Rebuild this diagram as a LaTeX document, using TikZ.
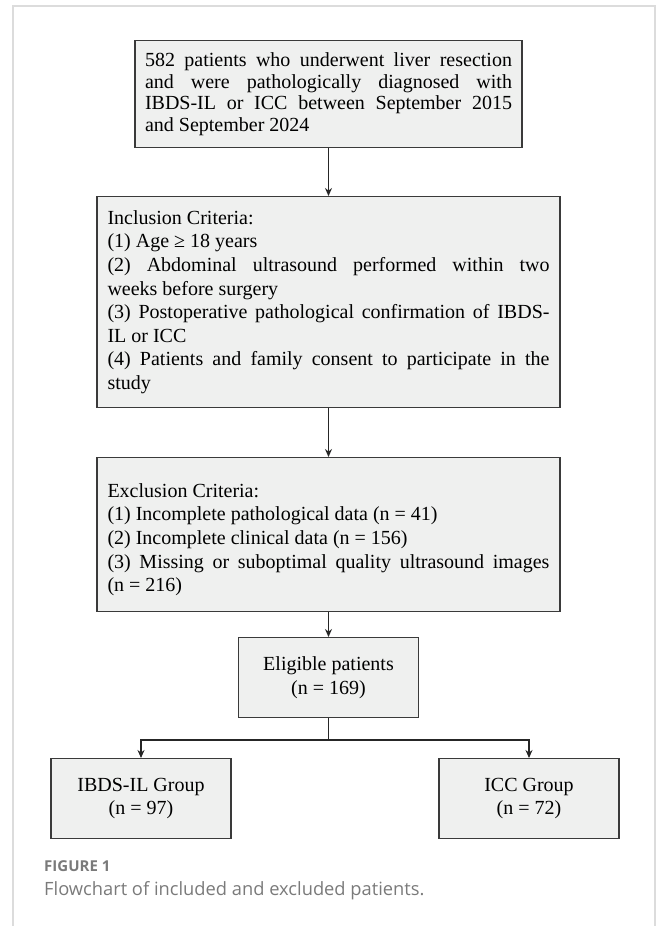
\documentclass[tikz,border=0pt]{standalone}
\usepackage{fontspec}
\setmainfont{Liberation Serif}
\newfontfamily\capfont{Open Sans}
\usetikzlibrary{arrows.meta}
\definecolor{boxfill}{HTML}{EFF0EF}
\definecolor{boxline}{HTML}{3A3A3A}
\definecolor{framegray}{HTML}{DCDCDC}
\definecolor{capgray}{HTML}{7A7A7A}
\hyphenpenalty=10000
\begin{document}
\begin{tikzpicture}[x=1pt, y=-1pt, >={Stealth[length=8pt,width=7pt]},
    every node/.style={font=\fontsize{20}{23.6}\selectfont},
    box/.style={draw=boxline, fill=boxfill, line width=1.2pt, anchor=north, inner xsep=10pt, inner ysep=0pt},
    critbox/.style={box, text width=442pt, minimum width=463pt, align=justify},
    countbox/.style={box, minimum width=180pt, minimum height=80pt, align=center},
    conn/.style={line width=1.1pt, draw=black!85}]
  \useasboundingbox (0,0) rectangle (656,926);
  % Frame
  \draw[framegray, line width=2pt] (13,926) -- (13,6) -- (655,6) -- (655,926);
  % Boxes
  \node[box, text width=367pt, minimum width=387pt, minimum height=107pt, align=justify,
        font=\fontsize{20}{21.7}\selectfont] (total) at (328.5,40)
    {582 patients who underwent liver resection\linebreak and were pathologically diagnosed with\linebreak IBDS-IL or ICC between September 2015\linebreak and September 2024};
  \node[critbox, minimum height=211pt] (incl) at (328.5,196)
    {Inclusion Criteria:\\
     (1) Age ≥ 18 years\\
     (2) Abdominal ultrasound performed within two\linebreak weeks before surgery\\
     (3) Postoperative pathological confirmation of IBDS-\linebreak IL or ICC\\
     (4) Patients and family consent to participate in the\linebreak study};
  \node[critbox, minimum height=154pt] (excl) at (328.5,457)
    {\rule{0pt}{24pt}Exclusion Criteria:\\
     (1) Incomplete pathological data (n = 41)\\
     (2) Incomplete clinical data (n = 156)\\
     (3) Missing or suboptimal quality ultrasound images\linebreak (n = 216)};
  \node[countbox] (elig) at (328.5,637) {Eligible patients\\(n = 169)};
  \node[countbox] (ibds) at (141,758) {IBDS-IL Group\\(n = 97)};
  \node[countbox] (icc) at (529,758) {ICC Group\\(n = 72)};
  % Connectors
  \draw[conn, ->] (total) -- (incl);
  \draw[conn, ->] (incl) -- (excl);
  \draw[conn, ->] (excl) -- (elig);
  \coordinate (split) at (328.5,740);
  \draw[conn] (elig) -- (split);
  \draw[conn, ->] (split) -| (ibds);
  \draw[conn, ->] (split) -| (icc);
  % Caption
  \node[anchor=base west, inner sep=0pt, font=\capfont\bfseries\fontsize{15}{17}\selectfont, text=capgray] (figlabel) at (44,871) {FIGURE 1};
  \node[anchor=base west, inner sep=0pt, font=\capfont\fontsize{18.3}{21}\selectfont, text=capgray] (figtext) at (44,895) {Flowchart of included and excluded patients.};
\end{tikzpicture}
\end{document}
